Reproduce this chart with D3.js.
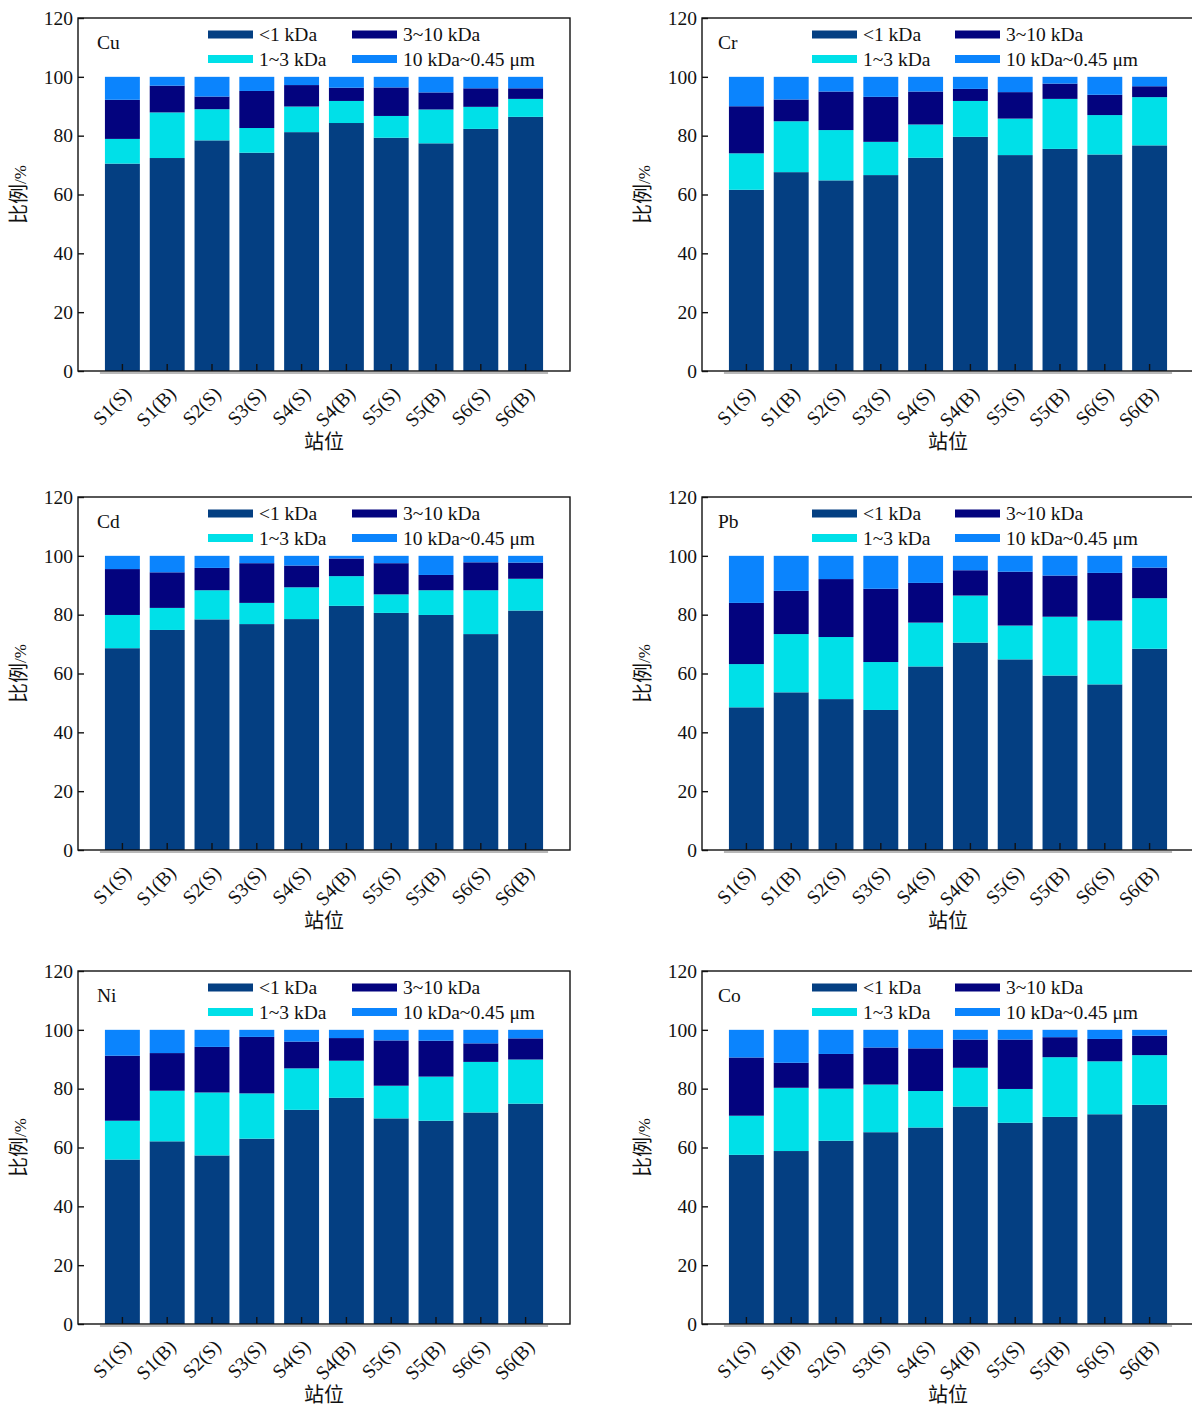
<!DOCTYPE html>
<html>
<head>
<meta charset="utf-8">
<script src="https://cdn.jsdelivr.net/npm/d3@7"></script>
<style>
  body { margin: 0; background: #fff; }
  text { font-family: "Liberation Serif", "Times New Roman", serif; }
</style>
</head>
<body>
<script>
//////////////// Datas ////////////////////
var stations = ["S1(S)", "S1(B)", "S2(S)", "S3(S)", "S4(S)", "S4(B)", "S5(S)", "S5(B)", "S6(S)", "S6(B)"];
var fractions = ["<1 kDa", "1~3 kDa", "3~10 kDa", "10 kDa~0.45 μm"];
var fractionColors = ["#043f82", "#00e0e8", "#03037e", "#0b84fd"];
var yTicks = [0, 20, 40, 60, 80, 100, 120];

// Cu
var cuLt1   = [70.5, 72.4, 78.4, 74.2, 81.2, 84.3, 79.3, 77.4, 82.3, 86.4];
var cu1to3  = [ 8.4, 15.5, 10.6,  8.4,  8.7,  7.5,  7.4, 11.5,  7.5,  6.1];
var cu3to10 = [13.3,  9.1,  4.3, 12.6,  7.3,  4.5,  9.7,  5.8,  6.3,  3.6];
var cu10k   = [ 7.8,  3.0,  6.7,  4.8,  2.8,  3.7,  3.6,  5.3,  3.9,  3.9];
// Cr
var crLt1   = [61.6, 67.6, 64.8, 66.6, 72.5, 79.6, 73.4, 75.5, 73.6, 76.7];
var cr1to3  = [12.4, 17.3, 17.1, 11.3, 11.3, 12.2, 12.4, 17.0, 13.4, 16.4];
var cr3to10 = [16.0,  7.4, 13.1, 15.3, 11.2,  4.1,  9.0,  5.2,  6.9,  3.7];
var cr10k   = [10.0,  7.7,  5.0,  6.8,  5.0,  4.1,  5.2,  2.3,  6.1,  3.2];
// Cd
var cdLt1   = [68.6, 74.8, 78.4, 76.8, 78.5, 83.0, 80.6, 79.9, 73.4, 81.4];
var cd1to3  = [11.3,  7.5,  9.9,  7.2, 10.8, 10.1,  6.3,  8.4, 14.9, 10.8];
var cd3to10 = [15.6, 12.1,  7.6, 13.5,  7.4,  6.0, 10.6,  5.2,  9.5,  5.5];
var cd10k   = [ 4.5,  5.6,  4.1,  2.5,  3.3,  0.9,  2.5,  6.5,  2.2,  2.3];
// Pb
var pbLt1   = [48.5, 53.6, 51.3, 47.6, 62.4, 70.5, 64.8, 59.3, 56.3, 68.4];
var pb1to3  = [14.7, 19.8, 21.1, 16.3, 14.9, 16.0, 11.5, 20.0, 21.7, 17.2];
var pb3to10 = [20.8, 14.7, 19.7, 24.9, 13.5,  8.6, 18.3, 14.0, 16.2, 10.4];
var pb10k   = [16.0, 11.9,  7.9, 11.2,  9.2,  4.9,  5.4,  6.7,  5.8,  4.0];
// Ni
var niLt1   = [55.9, 62.1, 57.3, 63.0, 72.8, 76.9, 69.9, 69.1, 71.9, 74.9];
var ni1to3  = [13.2, 17.2, 21.4, 15.4, 14.1, 12.6, 11.1, 15.0, 17.2, 15.0];
var ni3to10 = [22.1, 12.8, 15.5, 19.2,  9.1,  7.7, 15.4, 12.2,  6.3,  7.2];
var ni10k   = [ 8.8,  7.9,  5.8,  2.4,  4.0,  2.8,  3.6,  3.7,  4.6,  2.9];
// Co
var coLt1   = [57.5, 58.8, 62.3, 65.2, 66.8, 73.9, 68.4, 70.4, 71.3, 74.5];
var co1to3  = [13.3, 21.5, 17.7, 16.2, 12.4, 13.2, 11.5, 20.3, 18.0, 16.9];
var co3to10 = [19.8,  8.5, 11.8, 12.6, 14.5,  9.6, 16.8,  6.8,  7.6,  6.6];
var co10k   = [ 9.4, 11.2,  8.2,  6.0,  6.3,  3.3,  3.3,  2.5,  3.1,  2.0];

var panels = [
  {name: "Cu", col: 0, row: 0, series: [cuLt1, cu1to3, cu3to10, cu10k]},
  {name: "Cr", col: 1, row: 0, series: [crLt1, cr1to3, cr3to10, cr10k]},
  {name: "Cd", col: 0, row: 1, series: [cdLt1, cd1to3, cd3to10, cd10k]},
  {name: "Pb", col: 1, row: 1, series: [pbLt1, pb1to3, pb3to10, pb10k]},
  {name: "Ni", col: 0, row: 2, series: [niLt1, ni1to3, ni3to10, ni10k]},
  {name: "Co", col: 1, row: 2, series: [coLt1, co1to3, co3to10, co10k]}
];

//////////////// Layout ////////////////////
var colX = [78, 702];
var rowY = [18, 497, 971];
var plotW = 492, plotH = 353;
var legendX = [[130, 274], [110, 253]];
var labelX = [19, 16];

var svg = d3.select("body")
  .append("svg")
  .attr("width", 1192)
  .attr("height", 1409);

var yScale = d3.scaleLinear().domain([0, 120]).range([plotH, 0]);
var xScale = d3.scaleBand()
  .domain(stations)
  .range([22, 470])
  .paddingInner(0.22)
  .paddingOuter(0.11);

panels.forEach(function(p){
  var g = svg.append("g")
    .attr("transform", "translate(" + colX[p.col] + "," + rowY[p.row] + ")");

  // stacked rows: one object per station
  var rows = stations.map(function(s, i){
    var o = {station: s};
    fractions.forEach(function(f, k){ o[f] = p.series[k][i]; });
    return o;
  });
  var stacked = d3.stack().keys(fractions)(rows);

  g.selectAll("g.layer")
    .data(stacked)
    .enter()
    .append("g")
    .attr("class", "layer")
    .attr("fill", function(d, k){ return fractionColors[k]; })
    .selectAll("rect")
    .data(function(d){ return d; })
    .enter()
    .append("rect")
    .attr("x", function(d){ return xScale(d.data.station); })
    .attr("width", xScale.bandwidth())
    .attr("y", function(d){ return yScale(d[1]); })
    .attr("height", function(d){ return yScale(d[0]) - yScale(d[1]); });

  // gray category baseline
  g.append("line")
    .attr("x1", xScale(stations[0]) - 5)
    .attr("x2", xScale(stations[stations.length - 1]) + xScale.bandwidth() + 5)
    .attr("y1", plotH + 2)
    .attr("y2", plotH + 2)
    .style("stroke", "#b8b8b8")
    .style("stroke-width", 2);

  // frame
  g.append("rect")
    .attr("width", plotW)
    .attr("height", plotH)
    .attr("fill", "none")
    .style("stroke", "#111")
    .style("stroke-width", 1.4);

  // y axis
  var yAxis = d3.axisLeft(yScale).tickValues(yTicks).tickSizeInner(-6).tickSizeOuter(0).tickPadding(5);
  var ya = g.append("g").attr("class", "y axis").call(yAxis);
  ya.select(".domain").remove();
  ya.selectAll("line").style("stroke", "#111").style("stroke-width", 1.4);
  ya.selectAll("text").style("font-size", "19.5px").attr("fill", "#111");

  // x axis
  var xAxis = d3.axisBottom(xScale).tickSizeInner(-7).tickSizeOuter(0);
  var xa = g.append("g")
    .attr("class", "x axis")
    .attr("transform", "translate(0," + plotH + ")")
    .call(xAxis);
  xa.select(".domain").remove();
  xa.selectAll("line").style("stroke", "#111").style("stroke-width", 1.4);
  xa.selectAll("text")
    .style("font-size", "19.5px")
    .attr("fill", "#111")
    .attr("text-anchor", "end")
    .attr("y", 0)
    .attr("dy", 0)
    .attr("transform", "translate(10,24) rotate(-45)");

  // axis titles
  g.append("text")
    .attr("x", plotW / 2)
    .attr("y", plotH + 78)
    .attr("text-anchor", "middle")
    .style("font-family", "'Noto Sans CJK SC', sans-serif")
    .style("font-size", "20px")
    .attr("fill", "#111")
    .text("站位");

  var yt = g.append("text")
    .attr("transform", "translate(-52," + (plotH / 2) + ") rotate(-90)")
    .attr("text-anchor", "middle")
    .attr("fill", "#111");
  yt.append("tspan")
    .style("font-family", "'Noto Sans CJK SC', sans-serif")
    .style("font-size", "20px")
    .text("比例");
  yt.append("tspan")
    .style("font-size", "17px")
    .text("/%");

  // element label
  g.append("text")
    .attr("x", labelX[p.col])
    .attr("y", 24)
    .attr("dy", "0.35em")
    .style("font-size", "19.5px")
    .attr("fill", "#111")
    .text(p.name);

  // legend: 2 x 2
  var order = [[0, 2], [1, 3]];
  order.forEach(function(r, ri){
    r.forEach(function(k, ci){
      var lx = legendX[p.col][ci];
      var ly = 16.5 + ri * 24.5;
      g.append("rect")
        .attr("x", lx)
        .attr("y", ly - 4)
        .attr("width", 45)
        .attr("height", 8)
        .attr("fill", fractionColors[k]);
      g.append("text")
        .attr("x", lx + 51)
        .attr("y", ly)
        .attr("dy", "0.35em")
        .style("font-size", "19.5px")
        .attr("fill", "#111")
        .text(fractions[k]);
    });
  });
});
</script>
</body>
</html>
